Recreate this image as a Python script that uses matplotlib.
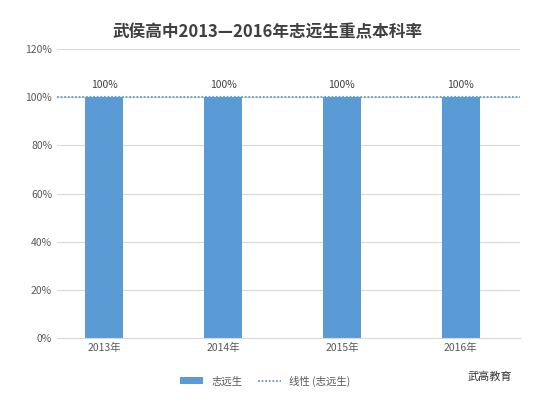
import matplotlib
matplotlib.use('Agg')
import matplotlib.pyplot as plt
from matplotlib.ticker import PercentFormatter

plt.rcParams['font.family'] = ['Noto Sans CJK SC', 'DejaVu Sans']

years = ['2013年', '2014年', '2015年', '2016年']
rates = [100, 100, 100, 100]
labels = ['100%', '100%', '100%', '100%']

fig = plt.figure(figsize=(5.35, 4.01), dpi=100)
ax = fig.add_axes([57/535, 1-338/401, 463/535, 289/401])
x = list(range(len(years)))
bar_color = '#5B9BD5'
b = ax.bar(x, rates, width=0.32, color=bar_color, zorder=2, label='志远生')
l, = ax.plot([-0.4, 3.5], [100, 100], linestyle=(0, (1, 1)), color='#5B9BD5', lw=1.3, zorder=3, label='线性 (志远生)')
for xi, r, t in zip(x, rates, labels):
    ax.text(xi, r + 3, t, ha='center', va='bottom', fontsize=7.5, color='#404040')
ax.set_xlim(-0.4, 3.5)
ax.set_ylim(0, 120)
ax.set_yticks(range(0, 121, 20))
ax.yaxis.set_major_formatter(PercentFormatter(decimals=0))
ax.set_xticks(x)
ax.set_xticklabels(years)
ax.tick_params(axis='both', length=0, labelsize=7.5, colors='#595959')
ax.grid(axis='y', color='#D9D9D9', lw=0.8, zorder=0)
for s in ['top', 'right', 'left']:
    ax.spines[s].set_visible(False)
ax.spines['bottom'].set_color('#D9D9D9')
fig.text(0.5, 1-32/401, '武侯高中2013—2016年志远生重点本科率', ha='center', va='center',
         fontsize=12, fontweight='bold', color='#404040')
fig.legend([b, l], ['志远生', '线性 (志远生)'], loc='center', bbox_to_anchor=(265/535, 1-381/401), ncol=2, frameon=False,
           fontsize=7.5, handlelength=2.2, columnspacing=1.5, labelcolor='#595959')
fig.text(468/535, 1-377/401, '武高教育', ha='left', va='center', fontsize=8, color='#333333')
fig.savefig('out.png', dpi=100)
